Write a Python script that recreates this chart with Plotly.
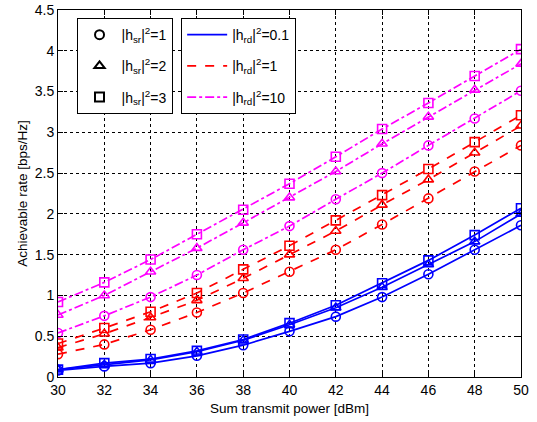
import plotly.graph_objects as go

power_dbm = [30, 32, 34, 36, 38, 40, 42, 44, 46, 48, 50]

# |h_rd|^2 = 0.1 (blue, solid)
rate_rd01_sr1 = [0.08, 0.13, 0.17, 0.26, 0.39, 0.56, 0.74, 0.98, 1.26, 1.56, 1.86]
rate_rd01_sr2 = [0.09, 0.15, 0.21, 0.31, 0.45, 0.64, 0.85, 1.10, 1.38, 1.66, 2.00]
rate_rd01_sr3 = [0.09, 0.17, 0.22, 0.32, 0.46, 0.66, 0.88, 1.15, 1.43, 1.74, 2.07]

# |h_rd|^2 = 1 (red, dashed)
rate_rd1_sr1 = [0.28, 0.40, 0.58, 0.79, 1.03, 1.29, 1.56, 1.87, 2.19, 2.52, 2.84]
rate_rd1_sr2 = [0.36, 0.53, 0.73, 0.94, 1.21, 1.50, 1.79, 2.11, 2.42, 2.75, 3.08]
rate_rd1_sr3 = [0.41, 0.60, 0.80, 1.03, 1.32, 1.61, 1.92, 2.23, 2.55, 2.88, 3.21]

# |h_rd|^2 = 10 (magenta, dash-dot)
rate_rd10_sr1 = [0.54, 0.75, 0.98, 1.25, 1.56, 1.85, 2.18, 2.50, 2.84, 3.17, 3.51]
rate_rd10_sr2 = [0.76, 1.00, 1.29, 1.58, 1.89, 2.20, 2.52, 2.86, 3.19, 3.52, 3.84]
rate_rd10_sr3 = [0.92, 1.16, 1.44, 1.75, 2.05, 2.37, 2.70, 3.04, 3.36, 3.69, 4.02]

x_ticks = [30, 32, 34, 36, 38, 40, 42, 44, 46, 48, 50]
y_ticks = [0, 0.5, 1, 1.5, 2, 2.5, 3, 3.5, 4, 4.5]
y_tick_labels = ["0", "0.5", "1", "1.5", "2", "2.5", "3", "3.5", "4", "4.5"]

sr_labels = ["|h<sub>sr</sub>|<sup>2</sup>=1", "|h<sub>sr</sub>|<sup>2</sup>=2", "|h<sub>sr</sub>|<sup>2</sup>=3"]
rd_labels = ["|h<sub>rd</sub>|<sup>2</sup>=0.1", "|h<sub>rd</sub>|<sup>2</sup>=1", "|h<sub>rd</sub>|<sup>2</sup>=10"]

symbols = ["circle-open", "triangle-up-open", "square-open"]
colors = ["#0000ff", "#ff0000", "#ff00ff"]
dashes = ["solid", "dash", "dashdot"]

series = [
    [rate_rd01_sr1, rate_rd01_sr2, rate_rd01_sr3],
    [rate_rd1_sr1, rate_rd1_sr2, rate_rd1_sr3],
    [rate_rd10_sr1, rate_rd10_sr2, rate_rd10_sr3],
]

FONT = "Liberation Sans, Arial, sans-serif"

fig = go.Figure()
for i, group in enumerate(series):
    for j, vals in enumerate(group):
        fig.add_trace(go.Scatter(
            x=power_dbm, y=vals, mode="lines+markers",
            line=dict(color=colors[i], width=1.7, dash=dashes[i]),
            marker=dict(symbol=symbols[j], size=9, color=colors[i],
                        line=dict(width=1.6, color=colors[i])),
            showlegend=False,
        ))

for j in range(3):
    fig.add_trace(go.Scatter(
        x=[None], y=[None], mode="markers", name=sr_labels[j],
        marker=dict(symbol=symbols[j], size=9, color="black",
                    line=dict(width=2, color="black")),
        legend="legend", legendgroup="sr%d" % j,
    ))
for i in range(3):
    fig.add_trace(go.Scatter(
        x=[None], y=[None], mode="lines", name=rd_labels[i],
        line=dict(color=colors[i], width=1.7, dash=dashes[i]),
        legend="legend2", legendgroup="rd%d" % i,
    ))

axis_common = dict(
    showline=True, linecolor="black", linewidth=1, mirror="ticks",
    ticks="inside", ticklen=5, tickcolor="black",
    showgrid=True, gridcolor="black", gridwidth=1, griddash="3px,3px",
    zeroline=False, tickfont=dict(family=FONT, size=14, color="black"),
    automargin=False,
)

fig.update_xaxes(range=[30, 50], tickvals=x_ticks,
                 title=dict(text="Sum transmit power [dBm]", font=dict(family=FONT, size=13.5, color="black"), standoff=6),
                 **axis_common)
fig.update_yaxes(range=[0, 4.5], tickvals=y_ticks, ticktext=y_tick_labels,
                 title=dict(text="Achievable rate [bps/Hz]", font=dict(family=FONT, size=13.5, color="black"), standoff=4),
                 **axis_common)

legend_common = dict(
    bgcolor="white", bordercolor="black", borderwidth=1,
    font=dict(family=FONT, size=14, color="black"),
    xanchor="left", yanchor="top", tracegroupgap=10,
)
fig.update_layout(
    width=537, height=422,
    margin=dict(l=58, r=16, t=10, b=45),
    paper_bgcolor="white", plot_bgcolor="white",
    font=dict(family=FONT, color="black"),
    legend=dict(x=0.04, y=0.978, itemwidth=34, **legend_common),
    legend2=dict(x=0.266, y=0.978, itemwidth=40, **legend_common),
)

fig.write_html("out.html", config={"displayModeBar": False},
               post_script="document.body.style.margin='0';document.body.style.overflow='hidden';")
